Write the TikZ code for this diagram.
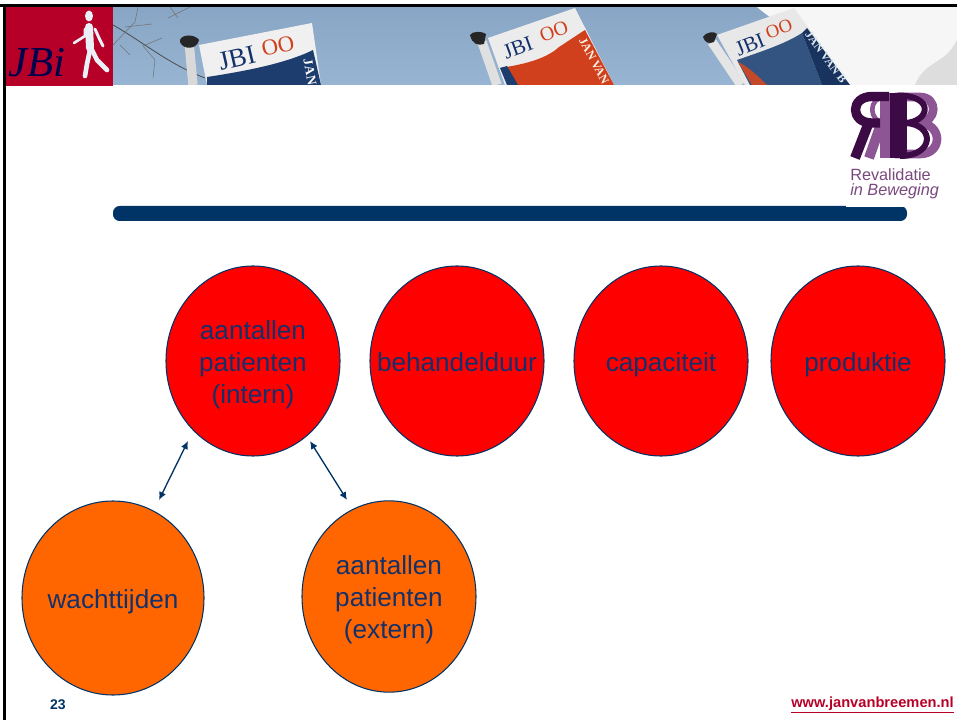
\documentclass[tikz,border=0pt]{standalone}
\usepackage{fontspec}
\setmainfont{Liberation Sans}
\newfontfamily\serifface{Liberation Serif}
\usetikzlibrary{arrows.meta,shapes.geometric}
\definecolor{navy}{HTML}{003366}
\definecolor{txtnavy}{HTML}{14306B}
\definecolor{jbired}{HTML}{B70028}
\definecolor{sky}{HTML}{8FAECF}
\definecolor{dpurple}{HTML}{3C0B45}
\definecolor{lpurple}{HTML}{8E5595}
\definecolor{flagblue}{HTML}{1C3D6E}
\definecolor{flagred}{HTML}{D0401C}
\newcommand{\btext}[1]{\raisebox{-8pt}[0pt][0pt]{\makebox[0pt]{\begin{tabular}{@{}c@{}}#1\end{tabular}}}}
\tikzset{
  bubble/.style={ellipse,draw=navy,line width=0.8pt,inner sep=0pt,text=txtnavy,font=\fontsize{19.6}{24}\selectfont},
  redb/.style={bubble,minimum width=130.5pt,minimum height=142.5pt,fill=red},
  oranged/.style={bubble,minimum width=130.5pt,minimum height=142.5pt,fill={rgb,255:red,255;green,102;blue,0}},
  link/.style={draw=navy,line width=1pt,{Latex[length=6pt,width=5.5pt]}-{Latex[length=6pt,width=5.5pt]}},
  flagtxt/.style={font=\serifface\fontsize{#1}{#1}\selectfont,inner sep=0pt},
  sidetxt/.style={font=\serifface\bfseries\fontsize{#1}{#1}\selectfont,inner sep=0pt},
  pole/.style={line width=7pt,draw=#1},
}
\begin{document}
\begin{tikzpicture}[x=0.75pt,y=-0.75pt]
\useasboundingbox (0,0) rectangle (957,720);
\fill[white] (0,0) rectangle (957,720);
% banner
\begin{scope}
\clip (113,7) rectangle (957,85);
\shade[top color=sky!95!black,bottom color=sky!92!white] (113,7) rectangle (957,85);
\fill[white!93!gray] (757,7) .. controls (765,14) and (772,18) .. (778,24) -- (790,85) -- (957,85) -- (957,7) -- cycle;
\fill[gray!50,opacity=.45] (915,85) .. controls (925,60) and (945,65) .. (957,40) -- (957,85) -- cycle;
% twigs
\draw[black!70,line width=0.6pt] (113,25) .. controls (140,40) and (170,65) .. (205,78);
\draw[black!55,line width=0.4pt] (113,45) -- (135,22) -- (138,7) (125,27) -- (152,24) (155,60) -- (153,78) (155,60) -- (143,46) -- (162,38) (170,7) -- (178,18) (190,7) -- (168,18) (120,45) -- (130,55);
% flag 1
\draw[pole=black!15] (189,42) -- (193,85);
\fill[black!85] (180,40) .. controls (182,34) and (195,34) .. (199,40) .. controls (197,50) and (183,50) .. (180,42) -- cycle;
\fill[white!88!gray] (199,45) -- (312,23) -- (321,85) -- (207,85) -- cycle;
\fill[flagblue] (207,77) .. controls (240,72) and (285,64) .. (313,50) -- (321,85) -- (207,85) -- cycle;
\node[flagtxt=20,text=txtnavy,rotate=13] (f1a) at (237,58) {JBI};
\node[flagtxt=17,text=flagred,rotate=13] (f1b) at (278,46) {OO};
\node[sidetxt=10,text=white,rotate=-80] (f1c) at (310,72) {JAN};
% flag 2
\draw[pole=black!12] (482,42) -- (497,85);
\fill[black!85] (470,35) .. controls (472,31) and (482,31) .. (486,34) -- (484,44) .. controls (478,46) and (472,44) .. (470,35) -- cycle;
\fill[white!85!gray] (488,38) -- (575,8) -- (614,85) -- (505,85) -- cycle;
\fill[flagred] (500,68) .. controls (520,65) and (545,60) .. (559,47) .. controls (567,42) and (577,35) .. (585,30) -- (614,85) -- (515,85) -- cycle;
\fill[flagblue] (500,68) -- (507,66) -- (518,85) -- (507,85) -- cycle;
\node[flagtxt=16,text=txtnavy,rotate=20] (f2a) at (518,48) {JBI};
\node[flagtxt=15,text=flagred,rotate=20] (f2b) at (554,31) {OO};
\node[sidetxt=9,text=white!90!orange,rotate=-62] (f2c) at (594,61) {JAN VAN};
% flag 3
\draw[pole=black!10] (712,42) -- (741,85);
\fill[black!85] (703,37) .. controls (705,32) and (715,31) .. (717,34) -- (714,42) .. controls (709,44) and (705,43) .. (703,37) -- cycle;
\fill[white!82!gray] (717,35) -- (794,8) -- (850,85) -- (745,85) -- cycle;
\fill[flagblue!80!sky] (737,60) .. controls (760,52) and (785,44) .. (802,33) -- (822,85) -- (750,85) -- cycle;
\fill[flagblue!85!black] (802,33) -- (807,28) -- (850,85) -- (822,85) -- cycle;
\fill[flagred!85!gray] (738,62) -- (752,85) -- (767,85) .. controls (757,75) and (747,66) .. (738,62) -- cycle;
\node[flagtxt=16,text=txtnavy,rotate=22] (f3a) at (750,45) {JBI};
\node[flagtxt=14,text=flagred,rotate=20] (f3b) at (779,29) {OO};
\node[sidetxt=9,text=white!70!sky,rotate=-54] (f3c) at (826,57) {JAN VAN B};
\end{scope}
% JBi logo
\fill[jbired] (6,7) rectangle (113,86);
\node[font=\serifface\itshape\fontsize{32}{32}\selectfont,text=black!70!blue,inner sep=0pt,anchor=base west] (jbi) at (8,77) {JBi};
\begin{scope}[line cap=round,line join=round,color=white!82!sky]
\fill (89,16) ellipse (4 and 5.5);
\draw[line width=6pt] (89,27) -- (90,48);
\draw[line width=2pt] (85,29) -- (85,36) -- (74,43);
\draw[line width=2.2pt] (95,29) -- (99,38) -- (103,46);
\draw[line width=3.5pt] (90,50) -- (87,64) -- (85,76);
\draw[line width=3.5pt] (92,50) -- (97,60) -- (107,70);
\end{scope}
% rule bar
\fill[navy,rounded corners=5pt] (113,206) rectangle (907,221);
% RB logo
\fill[white] (846,88) rectangle (942,207);
\begin{scope}[line join=round]
\draw[lpurple,line width=6.5pt] (895,97) -- (920,97) .. controls (938,97) and (938,122) .. (918,123) .. controls (943,123) and (943,154) .. (920,154) -- (895,154);
\draw[lpurple,line width=7.5pt] (885,93) -- (885,158);
\draw[lpurple,line width=7.5pt] (881,124) -- (869,158);
\draw[lpurple,line width=3.5pt] (885,97) .. controls (868,97) and (868,122) .. (885,123);
\draw[dpurple,line width=7.5pt] (869,122) -- (855,158);
\draw[dpurple,line width=7pt] (889,96.5) -- (872,96.5) .. controls (850,96.5) and (850,123) .. (872,123) -- (880,123);
\draw[dpurple,line width=12.5pt] (898.5,93) -- (898.5,158);
\draw[dpurple,line width=4.5pt] (898,95.5) .. controls (935,95.5) and (930,122) .. (905,123) .. controls (935,124) and (935,156) .. (900,156);
\end{scope}
\node[font=\fontsize{12.2}{11.25}\selectfont,text=lpurple!85!black,anchor=north west,inner sep=0pt,align=left] (rb) at (850,168) {Revalidatie\\\textit{in Beweging}};
% bubbles
\node[redb] (a) at (253,361) {\btext{aantallen\\patienten\\(intern)}};
\node[redb] (b) at (457,361) {\btext{behandelduur}};
\node[redb] (c) at (661,361) {\btext{capaciteit}};
\node[redb] (d) at (858,361) {\btext{produktie}};
\node[oranged,minimum width=136.5pt,minimum height=145.5pt] (w) at (113,598) {\btext{wachttijden}};
\node[oranged,minimum height=143.5pt] (e) at (389,596.5) {\btext{aantallen\\patienten\\(extern)}};
% arrows
\coordinate (p1) at (188,441);
\coordinate (p2) at (159,500);
\coordinate (p3) at (310,441);
\coordinate (p4) at (347,500);
\draw[link] (p1) -- (p2);
\draw[link] (p3) -- (p4);
% frame
\fill[black] (0,4) rectangle (957,7);
\fill[black] (3,4) rectangle (6,720);
% footer
\node[font=\bfseries\fontsize{10.5}{11}\selectfont,text=navy,inner sep=0pt] (num) at (58,704.5) {23};
\node[font=\bfseries\fontsize{11}{11}\selectfont,text=jbired,inner sep=0pt,anchor=east] (url) at (954,705) {\underline{www.janvanbreemen.nl}};
\end{tikzpicture}
\end{document}
